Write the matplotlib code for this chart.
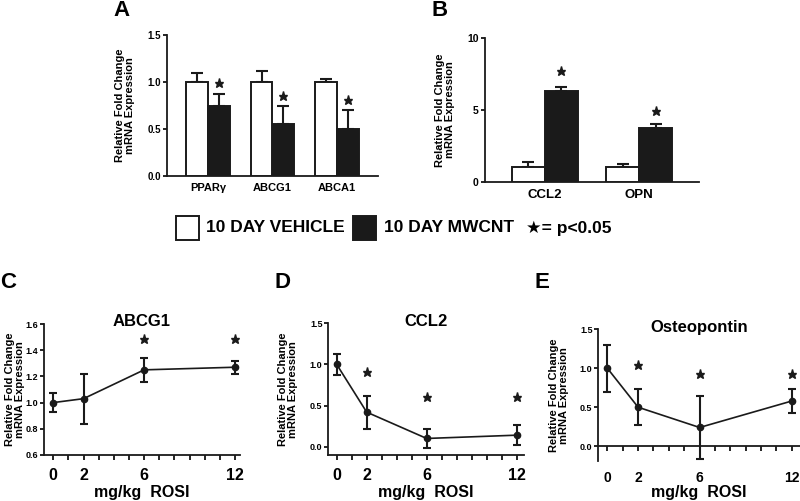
import numpy as np
import matplotlib
matplotlib.use("Agg")
import matplotlib.pyplot as plt
from matplotlib.patches import Rectangle

plt.rcParams['font.family'] = ['Liberation Sans', 'DejaVu Sans']
plt.rcParams['font.weight'] = 'bold'
plt.rcParams['axes.linewidth'] = 1.2

# ---------------- data ----------------
cats_a = ['PPARγ', 'ABCG1', 'ABCA1']
veh_a = [1.00, 1.00, 1.00]
veh_a_err = [0.10, 0.12, 0.03]
mw_a = [0.75, 0.55, 0.50]
mw_a_err = [0.12, 0.20, 0.20]
star_a = [0.99, 0.85, 0.81]

cats_b = ['CCL2', 'OPN']
veh_b = [1.0, 1.0]
veh_b_err = [0.40, 0.20]
mw_b = [6.35, 3.75]
mw_b_err = [0.25, 0.25]
star_b = [7.7, 4.95]

dose = [0, 2, 6, 12]
c_mean = [1.00, 1.03, 1.25, 1.27]
c_err = [0.07, 0.19, 0.09, 0.05]
c_star_x = [6, 12]
c_star_y = [1.485, 1.485]

d_mean = [1.00, 0.42, 0.10, 0.14]
d_err = [0.13, 0.20, 0.12, 0.12]
d_star_x = [2, 6, 12]
d_star_y = [0.91, 0.61, 0.61]

e_mean = [1.00, 0.50, 0.24, 0.58]
e_err = [0.30, 0.23, 0.40, 0.16]
e_star_x = [2, 6, 12]
e_star_y = [1.04, 0.93, 0.93]

BLACK = '#1a1a1a'
W, H = 800, 501
STAR_MS = 6.5

fig = plt.figure(figsize=(8, 5.01), dpi=100)


def add_ax(l, r, t, b):
    return fig.add_axes([l / W, 1 - b / H, (r - l) / W, (b - t) / H])


def ftext(x, y, s, **kw):
    fig.text(x / W, 1 - y / H, s, **kw)


def style(ax):
    for s in ['top', 'right']:
        ax.spines[s].set_visible(False)
    for s in ['left', 'bottom']:
        ax.spines[s].set_linewidth(1.3)
        ax.spines[s].set_color(BLACK)


def set_ylab(ax, l, r, xc):
    ax.set_ylabel('Relative Fold Change\nmRNA Expression', fontsize=8,
                  fontweight='bold', linespacing=1.1)
    ax.yaxis.label.set_va('center')
    ax.yaxis.set_label_coords(-(l - xc) / (r - l), 0.5)


def bar_panel(ax, cats, veh, veh_err, mw, mw_err, stars, w, ylim, yticks,
              yticklabels, tick_fs, cat_fs):
    x = np.arange(1, len(cats) + 1)
    ax.bar(x - w / 2, veh, w, color='white', edgecolor=BLACK, linewidth=1.4, zorder=3)
    ax.bar(x + w / 2, mw, w, color=BLACK, edgecolor=BLACK, linewidth=1.4, zorder=3)
    z = np.zeros(len(cats))
    ax.errorbar(x - w / 2, veh, yerr=[z, veh_err], fmt='none', ecolor=BLACK,
                elinewidth=1.5, capsize=4.5, capthick=1.5, zorder=2)
    ax.errorbar(x + w / 2, mw, yerr=[z, mw_err], fmt='none', ecolor=BLACK,
                elinewidth=1.5, capsize=4.5, capthick=1.5, zorder=2)
    ax.plot(x + w / 2, stars, ls='none', marker='*', ms=STAR_MS, color=BLACK)
    ax.set_xlim(x[0] - 0.636, x[-1] + 0.636)
    ax.set_ylim(*ylim)
    ax.set_yticks(yticks)
    ax.set_yticklabels(yticklabels, fontsize=tick_fs, fontweight='bold')
    ax.set_xticks(x)
    ax.set_xticklabels(cats, fontsize=cat_fs, fontweight='bold')
    ax.tick_params(axis='x', length=0, pad=5)
    ax.tick_params(axis='y', length=3, width=1.2, pad=1.5, direction='out')
    style(ax)


# Panel A
axA = add_ax(167, 378, 35, 176)
bar_panel(axA, cats_a, veh_a, veh_a_err, mw_a, mw_a_err, star_a, 0.34,
          (0, 1.5), [0, 0.5, 1.0, 1.5], ['0.0', '0.5', '1.0', '1.5'], 7, 8)
set_ylab(axA, 167, 378, 125)

# Panel B
axB = add_ax(485, 699, 38.3, 181.7)
bar_panel(axB, cats_b, veh_b, veh_b_err, mw_b, mw_b_err, star_b, 0.35,
          (0, 10), [0, 5, 10], ['0', '5', '10'], 7.5, 9.5)
set_ylab(axB, 485, 699, 445)


def line_panel(ax, mean, err, sx, sy, xlim, ylim, yticks, yticklabels,
               title, l, r, t, b, ylab_x, xtick_pad):
    ax.errorbar(dose, mean, yerr=err, color=BLACK, lw=1.2, marker='o', ms=4.5,
                ecolor=BLACK, elinewidth=1.5, capsize=3, capthick=1.5, zorder=3,
                clip_on=False)
    ax.plot(sx, sy, ls='none', marker='*', ms=STAR_MS, color=BLACK, clip_on=False)
    ax.set_xlim(*xlim)
    ax.set_ylim(*ylim)
    ax.set_xticks(dose)
    ax.set_xticklabels([str(d) for d in dose], fontsize=11.5, fontweight='bold')
    ax.set_xticks(range(0, 13), minor=True)
    ax.set_yticks(yticks)
    ax.set_yticklabels(yticklabels, fontsize=6.5, fontweight='bold')
    ax.tick_params(axis='x', which='both', length=3.5, width=1.2, direction='out',
                   pad=xtick_pad)
    ax.tick_params(axis='y', length=3, width=1.2, pad=1, direction='out')
    style(ax)
    set_ylab(ax, l, r, ylab_x)
    ax.set_xlabel('mg/kg  ROSI', fontsize=11.5, fontweight='bold')
    ax.xaxis.label.set_va('center')
    ax.xaxis.set_label_coords(0.5, -(492 - b) / (b - t))
    ax.text(0.5, 1 + 2 / (b - t), title, transform=ax.transAxes, ha='center',
            va='center', fontsize=12, fontweight='bold')


# Panel C
axC = add_ax(44, 240, 324, 455)
line_panel(axC, c_mean, c_err, c_star_x, c_star_y, (-0.61, 12.33), (0.6, 1.6),
           [0.6, 0.8, 1.0, 1.2, 1.4, 1.6], ['0.6', '0.8', '1.0', '1.2', '1.4', '1.6'],
           'ABCG1', 44, 240, 324, 455, 15, 6)

# Panel D
axD = add_ax(328, 524, 323.3, 455)
line_panel(axD, d_mean, d_err, d_star_x, d_star_y, (-0.58, 12.49), (-0.101, 1.5),
           [0.0, 0.5, 1.0, 1.5], ['0.0', '0.5', '1.0', '1.5'],
           'CCL2', 328, 524, 323.3, 455, 288, 6)

# Panel E
axE = add_ax(598, 800, 329.3, 461)
line_panel(axE, e_mean, e_err, e_star_x, e_star_y, (-0.61, 12.53), (-0.19, 1.5),
           [0.0, 0.5, 1.0, 1.5], ['0.0', '0.5', '1.0', '1.5'],
           'Osteopontin', 598, 800, 329.3, 461, 559, 14.5)
axE.spines['bottom'].set_position(('data', 0))

# Panel letters
for lx, ly, s in [(121, 11, 'A'), (440, 11, 'B'), (8, 283, 'C'), (282, 283, 'D'),
                  (542, 283, 'E')]:
    ftext(lx, ly, s, fontsize=16, fontweight='bold', ha='center', va='center')

# Legend
leg_y = 228
fig.patches.append(Rectangle((176 / W, 1 - 240 / H), 23 / W, 24 / H,
                             transform=fig.transFigure, facecolor='white',
                             edgecolor=BLACK, linewidth=1.4))
ftext(206, leg_y, '10 DAY VEHICLE', fontsize=12.5, fontweight='bold', va='center')
fig.patches.append(Rectangle((353 / W, 1 - 240 / H), 23 / W, 24 / H,
                             transform=fig.transFigure, facecolor=BLACK,
                             edgecolor=BLACK, linewidth=1.4))
ftext(384, leg_y, '10 DAY MWCNT', fontsize=12.5, fontweight='bold', va='center')
ftext(526, leg_y, '★= p<0.05', fontsize=12.5, fontweight='bold', va='center')

fig.savefig('out.png', dpi=100)
